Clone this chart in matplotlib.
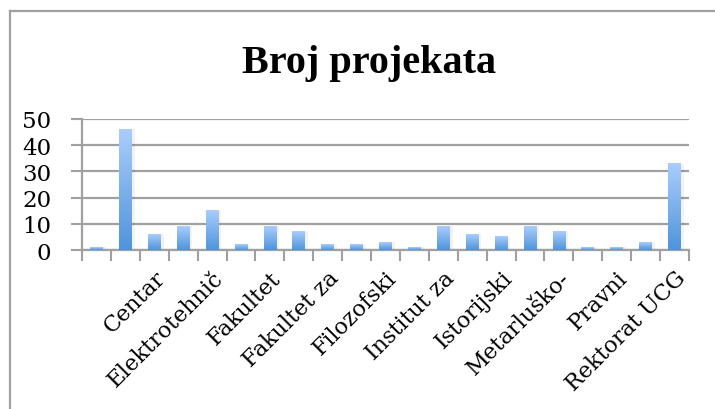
import numpy as np
import matplotlib.pyplot as plt
from matplotlib.colors import LinearSegmentedColormap
from matplotlib.lines import Line2D

# Data
values = [1, 46, 6, 9, 15, 2, 9, 7, 2, 2, 3, 1, 9, 6, 5, 9, 7, 1, 1, 3, 33]
tick_labels = ['', 'Centar', 'Elektrotehnič', 'Fakultet', 'Fakultet za', 'Filozofski',
               'Institut za', 'Istorijski', 'Metarluško-', 'Pravni', 'Rektorat UCG']
title = 'Broj projekata'

grid_col = '#a0a0a0'
grad = LinearSegmentedColormap.from_list('bar', ['#4f94da', '#aacdfc'])

fig = plt.figure(figsize=(7.15, 4.10), dpi=100)
ax = fig.add_axes([82 / 715, 1 - 251 / 410, 607 / 715, 131 / 410])

x = np.arange(len(values))
width = 0.44
g = np.linspace(0, 1, 256).reshape(-1, 1)
for xi, v in zip(x, values):
    # soft shadow
    ax.add_patch(plt.Rectangle((xi - width / 2 + 0.06, 0), width + 0.04, v,
                               color='#000000', alpha=0.05, lw=0, zorder=2))
    ax.imshow(g, cmap=grad, origin='lower', aspect='auto', zorder=3,
              interpolation='bilinear',
              extent=[xi - width / 2, xi + width / 2, 0, v])

ax.set_xlim(-0.5, len(values) - 0.5)
ax.set_ylim(0, 50)
ax.set_yticks(range(0, 51, 10))
ax.yaxis.grid(True, color=grid_col, lw=1.6, zorder=1)
ax.set_axisbelow(True)

ax.set_xticks(np.arange(-0.5, len(values), 1), minor=True)
ax.set_xticks(x[::2])
ax.set_xticklabels(tick_labels, rotation=45, ha='right', va='top',
                   rotation_mode='anchor', fontsize=16, family='DejaVu Serif')
ax.tick_params(axis='x', which='major', length=0, pad=12)
ax.tick_params(axis='x', which='minor', length=8, width=1.5, color=grid_col)
ax.tick_params(axis='y', length=8, width=1.5, color=grid_col, pad=14,
               labelsize=16.5)
for lbl in ax.get_yticklabels():
    lbl.set_family('DejaVu Serif')

for s in ['top', 'right']:
    ax.spines[s].set_visible(False)
for s in ['left', 'bottom']:
    ax.spines[s].set_color(grid_col)
    ax.spines[s].set_linewidth(1.6)

fig.text(369 / 715, 1 - 64 / 410, title, ha='center', va='center',
         fontsize=29, fontweight='bold', family='Liberation Serif')

# outer chart frame (clipped at right and bottom)
fig.add_artist(Line2D([9.5 / 715, 9.5 / 715], [0, 1 - 11.5 / 410],
                      transform=fig.transFigure, color=grid_col, lw=1.6))
fig.add_artist(Line2D([9.5 / 715, 1], [1 - 11.5 / 410, 1 - 11.5 / 410],
                      transform=fig.transFigure, color=grid_col, lw=1.6))

fig.savefig('out.png', dpi=100)
